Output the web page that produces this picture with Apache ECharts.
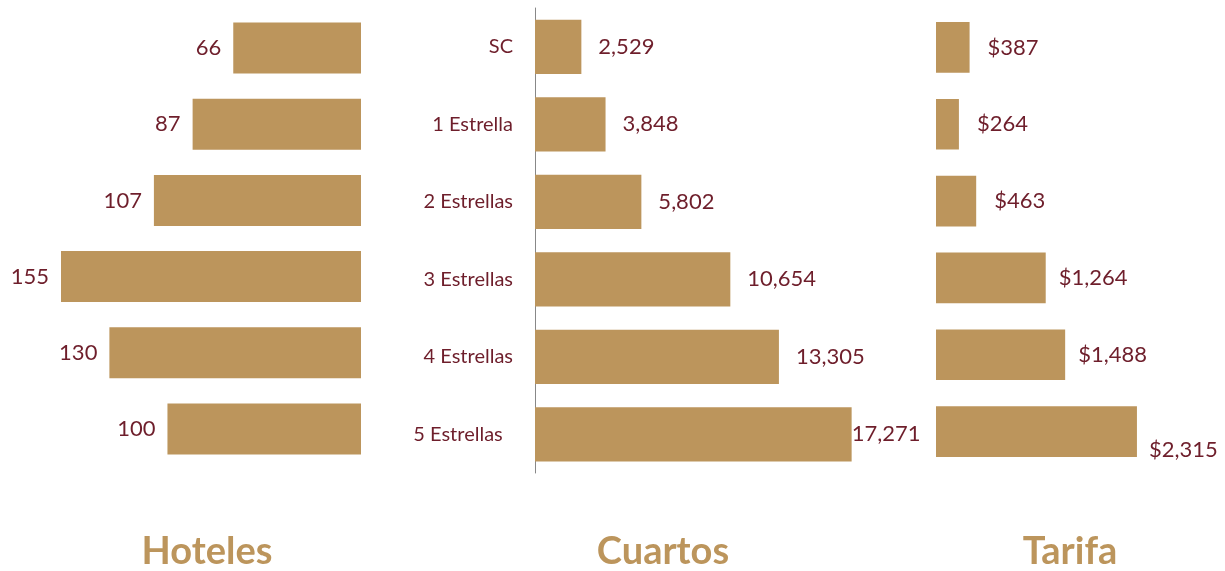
<!DOCTYPE html>
<html>
<head>
<meta charset="utf-8">
<script src="https://cdn.jsdelivr.net/npm/echarts@6/dist/echarts.min.js"></script>
<style>
  html, body { margin: 0; padding: 0; background: #fff; }
  #chart-container { width: 1225px; height: 571px; }
</style>
</head>
<body>
<div id="chart-container"></div>
<script>
// Categories (top to bottom)
const categories = ['SC', '1 Estrella', '2 Estrellas', '3 Estrellas', '4 Estrellas', '5 Estrellas'];
// Series values
const hoteles = [66, 87, 107, 155, 130, 100];
const cuartos = [2529, 3848, 5802, 10654, 13305, 17271];
const tarifa = [387, 264, 463, 1264, 1488, 2315];
// Panel titles
const panelTitles = ['Hoteles', 'Cuartos', 'Tarifa'];

const gold = '#BC955C';
const wine = '#6E1E2B';
const font = 'Lato, "Noto Sans", sans-serif';
const fmt = new Intl.NumberFormat('en-US');

const chart = echarts.init(document.getElementById('chart-container'));

const hiddenX = { type: 'value', min: 0, show: false, splitLine: { show: false } };
const hiddenY = { type: 'category', data: categories, inverse: true, show: false };

chart.setOption({
  animation: false,
  grid: [
    { left: 61, width: 300, top: 10, height: 457 },
    { left: 535, width: 330, top: 8, height: 465 },
    { left: 936, width: 217, top: 9, height: 461 }
  ],
  xAxis: [
    Object.assign({}, hiddenX, { gridIndex: 0, max: 155, inverse: true }),
    Object.assign({}, hiddenX, { gridIndex: 1, max: 18000 }),
    Object.assign({}, hiddenX, { gridIndex: 2, max: 2500 })
  ],
  yAxis: [
    Object.assign({}, hiddenY, { gridIndex: 0 }),
    {
      gridIndex: 1,
      type: 'category',
      data: categories,
      inverse: true,
      axisLine: { show: true, lineStyle: { color: '#888', width: 1 } },
      axisTick: { show: false },
      axisLabel: {
        color: wine, fontFamily: font, fontSize: 20, margin: 22,
        // last label sits a little further left in the original
        formatter: (v, i) => i === categories.length - 1 ? v + '  ' : v
      }
    },
    Object.assign({}, hiddenY, { gridIndex: 2 })
  ],
  series: [
    {
      type: 'bar',
      xAxisIndex: 0,
      yAxisIndex: 0,
      data: hoteles,
      barWidth: '67%',
      itemStyle: { color: gold },
      label: {
        show: true, position: 'left', distance: 12,
        color: wine, fontFamily: font, fontSize: 22
      }
    },
    {
      type: 'bar',
      xAxisIndex: 1,
      yAxisIndex: 1,
      data: cuartos.map((v, i) => i === cuartos.length - 1
        ? { value: v, label: { distance: 0 } } : v),
      barWidth: '70%',
      itemStyle: { color: gold },
      label: {
        show: true, position: 'right', distance: 17,
        color: wine, fontFamily: font, fontSize: 22,
        formatter: p => fmt.format(p.value)
      }
    },
    {
      type: 'bar',
      xAxisIndex: 2,
      yAxisIndex: 2,
      data: tarifa.map((v, i) => i === tarifa.length - 1
        ? { value: v, label: { distance: 12, offset: [0, 18] } }
        : (v > 1000 ? { value: v, label: { distance: 13 } } : v)),
      barWidth: '66%',
      itemStyle: { color: gold },
      label: {
        show: true, position: 'right', distance: 18,
        color: wine, fontFamily: font, fontSize: 22,
        formatter: p => '$' + fmt.format(p.value)
      }
    }
  ],
  graphic: panelTitles.map((t, i) => ({
    type: 'text',
    x: [207, 663, 1070][i],
    y: 552,
    style: {
      text: t,
      textAlign: 'center',
      textVerticalAlign: 'middle',
      fill: gold,
      font: 'bold 38px ' + font
    }
  }))
});
</script>
</body>
</html>
